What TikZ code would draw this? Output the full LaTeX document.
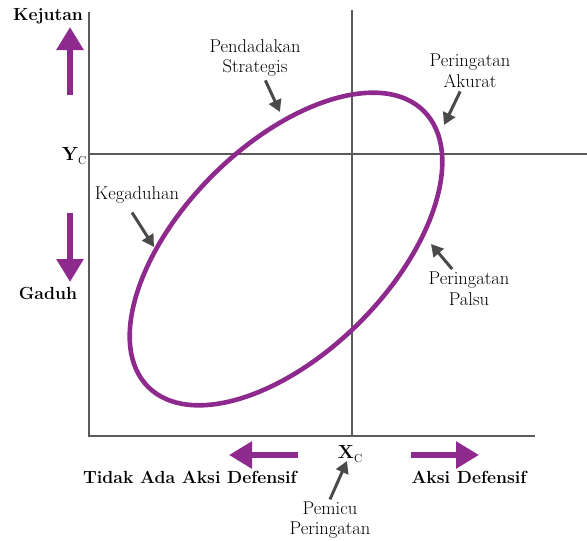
\documentclass[tikz,border=0pt]{standalone}
\usepackage{tikz}
\usetikzlibrary{arrows.meta,positioning,calc}
\usepackage{xcolor}
\definecolor{AlarmPurple}{HTML}{8E2A8E}
\definecolor{AlarmAxis}{HTML}{5A5A5A}
\definecolor{AlarmNote}{HTML}{4A4A4A}

\begin{document}
\begin{tikzpicture}[x=1pt,y=-1pt,
    axis/.style={AlarmAxis,line width=2.6pt},
    curve/.style={AlarmPurple,line width=4.6pt},
    bigarrow/.style={AlarmPurple,line width=6pt,-{Triangle[length=23pt,width=26pt]}},
    note/.style={AlarmNote,line width=3pt,-{Triangle[length=12pt,width=13pt]}},
    lbl/.style={font=\fontsize{18.5}{20.5}\selectfont,align=center,inner sep=0pt},
    tag/.style={font=\fontsize{17.6}{20}\selectfont\bfseries,inner sep=0pt}]
    \useasboundingbox (0,0) rectangle (587,541);
    % axes and the two thresholds
    \coordinate (top) at (89,12); \coordinate (orig) at (89,436); \coordinate (xend) at (535,436);
    \coordinate (ycl) at (89,154); \coordinate (ycr) at (587,154);
    \coordinate (xct) at (352,10); \coordinate (xcb) at (352,436);
    \draw[axis] (top) -- (orig) -- (xend);
    \draw[axis,line width=2pt] (ycl) -- (ycr);
    \draw[axis,line width=2pt] (xct) -- (xcb);
    % operating curve
    \coordinate (c) at (286,249);
    \draw[curve,rotate around={45:(c)}] (c) ellipse [x radius=195pt,y radius=104pt];
    % axis labels
    \node[tag] (kej) at (48,16) {Kejutan};
    \node[tag] (gad) at (48,293) {Gaduh};
    \node[tag] (yc) at (74,156) {{\fontsize{19}{19}\selectfont Y}\raisebox{-4pt}{\mdseries\fontsize{11.5}{11.5}\selectfont C}};
    \node[tag] (xc) at (350,454) {{\fontsize{19}{19}\selectfont X}\raisebox{-4pt}{\mdseries\fontsize{11.5}{11.5}\selectfont C}};
    \node[tag] (noact) at (190,477) {Tidak Ada Aksi Defensif};
    \node[tag] (act) at (469,477) {Aksi Defensif};
    \coordinate (up0) at (70,95); \coordinate (up1) at (70,27);
    \coordinate (dn0) at (70,213); \coordinate (dn1) at (70,282);
    \coordinate (lf0) at (298,455); \coordinate (lf1) at (229,455);
    \coordinate (rt0) at (411,455); \coordinate (rt1) at (479,455);
    \foreach \x/\y in {up0/up1,dn0/dn1,lf0/lf1,rt0/rt1}{\draw[bigarrow] (\x)--(\y);}
    % regions of the curve
    \node[lbl] (strat) at (255,58) {Pendadakan\\Strategis};
    \node[lbl] (akurat) at (470,71) {Peringatan\\Akurat};
    \node[lbl] (gaduhan) at (137,195) {Kegaduhan};
    \node[lbl] (palsu) at (469,289) {Peringatan\\Palsu};
    \node[lbl] (pemicu) at (330,520) {Pemicu\\Peringatan};
    \coordinate (tStrat) at (280,112); \coordinate (tAkurat) at (444,125);
    \coordinate (tGaduh) at (154,247); \coordinate (tPalsu) at (431,244);
    \coordinate (tPemicu) at (347,461);
    \foreach \x/\y in {strat/tStrat,akurat/tAkurat,palsu/tPalsu}{\draw[note,shorten <=4pt] (\x)--(\y);}
    \draw[note] ([xshift=-5pt,yshift=-9pt]gaduhan.south) -- (tGaduh);
    \draw[note] ([yshift=2pt]pemicu.north) -- (tPemicu);
  \end{tikzpicture}
\end{document}
